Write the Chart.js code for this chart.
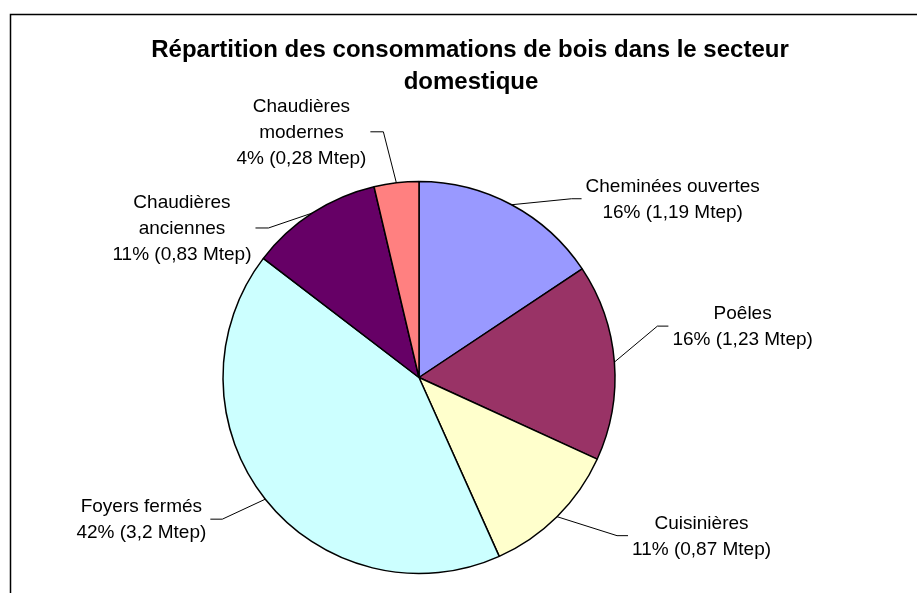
<!DOCTYPE html>
<html>
<head>
<meta charset="utf-8">
<script src="https://cdn.jsdelivr.net/npm/chart.js@4"></script>
<style>
  html, body { margin: 0; padding: 0; background: #fff; }
  canvas { display: block; }
</style>
</head>
<body>
<canvas id="pieChart" width="917" height="593"></canvas>
<script>
// data (Mtep)
const categories = ['Cheminées ouvertes', 'Poêles', 'Cuisinières', 'Foyers fermés', 'Chaudières\nanciennes', 'Chaudières\nmodernes'];
const values = [1.19, 1.23, 0.87, 3.2, 0.83, 0.28];
const colors = ['#9999FF', '#993366', '#FFFFCC', '#CCFFFF', '#660066', '#FF8080'];
const titleLines = ['Répartition des consommations de bois dans le secteur', 'domestique'];

// leader lines: elbow offset from the slice edge, then a short flat run
const leaders = [
    { dx: 60, dy: -6, len: 10 },
    { dx: 43, dy: -36, len: 11 },
    { dx: 60, dy: 19, len: 11 },
    { dx: -43, dy: 20, len: 12 },
    { dx: -44, dy: 15, len: 13 },
    { dx: -13, dy: -51, len: 13 }
];

const total = values.reduce((a, b) => a + b, 0);
const FONT = '"Liberation Sans", Arial, sans-serif';

const decorPlugin = {
    id: 'decor',
    beforeDraw(chart) {
        const ctx = chart.ctx;
        ctx.save();
        ctx.fillStyle = '#fff';
        ctx.fillRect(0, 0, chart.width, chart.height);
        // frame
        ctx.strokeStyle = '#000';
        ctx.lineWidth = 1.5;
        ctx.beginPath();
        ctx.moveTo(10.5, chart.height);
        ctx.lineTo(10.5, 14.5);
        ctx.lineTo(chart.width, 14.5);
        ctx.stroke();
        // title
        ctx.fillStyle = '#000';
        ctx.font = 'bold 24px ' + FONT;
        ctx.textAlign = 'center';
        ctx.textBaseline = 'alphabetic';
        ctx.fillText(titleLines[0], 470, 57);
        ctx.fillText(titleLines[1], 471, 89);
        ctx.restore();
    },
    afterDraw(chart) {
        const ctx = chart.ctx;
        const meta = chart.getDatasetMeta(0);
        ctx.save();
        ctx.font = '19px ' + FONT;
        ctx.fillStyle = '#000';
        ctx.textBaseline = 'alphabetic';
        ctx.textAlign = 'center';
        meta.data.forEach((arc, i) => {
            const mid = (arc.startAngle + arc.endAngle) / 2;
            const px = arc.x + Math.cos(mid) * arc.outerRadius;
            const py = arc.y + Math.sin(mid) * arc.outerRadius;
            const l = leaders[i];
            const side = l.dx >= 0 ? 1 : -1;
            const ex = px + l.dx, ey = py + l.dy;
            const endX = ex + side * l.len;

            ctx.strokeStyle = '#000';
            ctx.lineWidth = 1;
            ctx.beginPath();
            ctx.moveTo(px, py);
            ctx.lineTo(ex, ey);
            ctx.lineTo(endX, ey);
            ctx.stroke();

            const pct = Math.round(values[i] / total * 100);
            const lines = categories[i].split('\n');
            lines.push(pct + '% (' + String(values[i]).replace('.', ',') + ' Mtep)');
            const w = Math.max(...lines.map(t => ctx.measureText(t).width));
            const left = side > 0 ? endX + 4 : endX - 4 - w;
            const cx = left + w / 2;
            const cy = ey - 1;
            lines.forEach((t, k) => {
                ctx.fillText(t, cx, cy + (k - (lines.length - 1) / 2) * 26 + 7);
            });
        });
        ctx.restore();
    }
};

new Chart(document.getElementById('pieChart'), {
    type: 'pie',
    data: {
        labels: categories,
        datasets: [{
            data: values,
            backgroundColor: colors,
            borderColor: '#000',
            borderWidth: 1.5
        }]
    },
    options: {
        responsive: false,
        animation: false,
        radius: 196,
        layout: { padding: { top: 181, bottom: 19, left: 200, right: 279 } },
        plugins: {
            legend: { display: false },
            tooltip: { enabled: false },
            title: { display: false }
        }
    },
    plugins: [decorPlugin]
});
</script>
</body>
</html>
